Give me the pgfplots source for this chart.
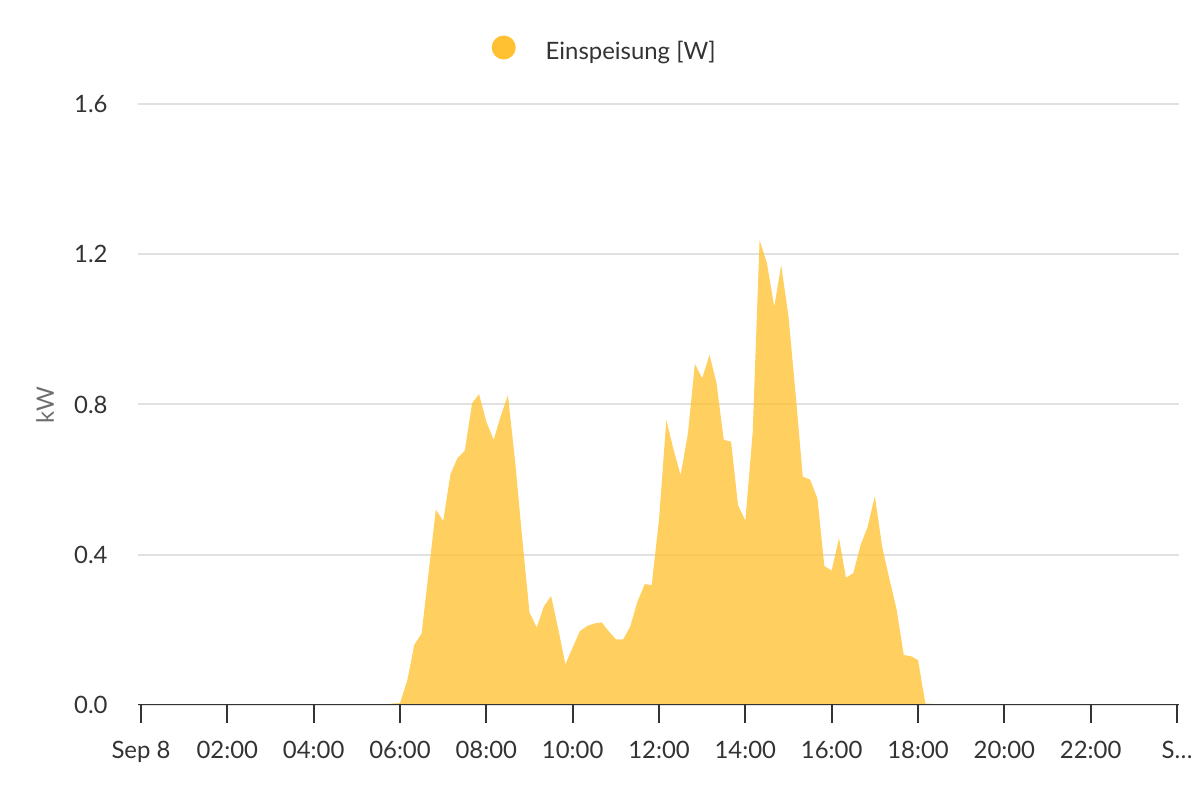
\documentclass[border=0pt]{standalone}
\usepackage{fontspec}
\setmainfont{Lato}
\usepackage{pgfplots}
\pgfplotsset{compat=1.18}
\definecolor{legc}{RGB}{255,193,50}
\definecolor{gridc}{RGB}{225,225,225}
\definecolor{axisc}{RGB}{51,51,51}
\definecolor{labc}{RGB}{110,110,110}
\begin{document}
\begin{tikzpicture}
\path[use as bounding box] (-69bp,-47.5bp) rectangle (531bp,352.5bp);
\begin{axis}[
  at={(0,0)}, anchor=south west,
  scale only axis, width=520.5bp, height=300.5bp,
  xmin=-0.0695, xmax=24.046, ymin=0, ymax=1.6,
  axis line style={draw=none},
  xtick={0,2,4,6,8,10,12,14,16,18,20,22,24},
  xticklabels={Sep 8,02:00,04:00,06:00,08:00,10:00,12:00,14:00,16:00,18:00,20:00,22:00,S…},
  xtick pos=bottom, ytick pos=left,
  ytick={0,0.4,0.8,1.2,1.6},
  yticklabel style={/pgf/number format/fixed, /pgf/number format/fixed zerofill, /pgf/number format/precision=1, xshift=-2.7bp},
  /pgf/number format/assume math mode=true,
  tick align=outside, major tick length=9bp,
  xtick style={draw=axisc, line width=1bp},
  ytick style={draw=none},
  ymajorgrids, grid style={gridc, line width=1bp},
  tick label style={font=\fontsize{12}{14}\selectfont, text=axisc},
  xticklabel style={yshift=-5.5bp},
  ylabel={kW},
  ylabel style={at={(axis description cs:-0.0893,0.499)}, anchor=center, font=\fontsize{12}{14}\selectfont, text=labc},
  legend style={at={(axis description cs:0.3398,1.0883)}, anchor=west, draw=none, fill=none, inner sep=0pt, outer sep=0pt,
    font=\fontsize{12}{14}\selectfont, text=axisc, /tikz/every odd column/.append style={column sep=13bp}},
  legend image code/.code={\fill[legc, fill opacity=1] (6bp,2.1bp) circle (6bp);},
]
\addplot[fill=legc, fill opacity=0.78, draw=none] table[row sep=\\] {
x y\\
0 0\\ 5.67 0\\ 5.83 0.004\\ 6.0 0.005\\ 6.17 0.066\\ 6.33 0.16\\ 6.5 0.19\\ 6.67 0.36\\ 6.83 0.52\\
7.0 0.49\\ 7.17 0.615\\ 7.33 0.657\\ 7.5 0.677\\ 7.67 0.803\\ 7.83 0.828\\ 8.0 0.754\\ 8.17 0.706\\
8.33 0.768\\ 8.5 0.825\\ 8.67 0.645\\ 8.83 0.445\\ 9.0 0.246\\ 9.17 0.206\\ 9.33 0.262\\ 9.5 0.29\\
9.67 0.20\\ 9.83 0.108\\ 10.0 0.153\\ 10.17 0.197\\ 10.33 0.21\\ 10.5 0.217\\ 10.67 0.22\\ 10.83 0.197\\
11.0 0.175\\ 11.17 0.175\\ 11.33 0.208\\ 11.5 0.275\\ 11.67 0.322\\ 11.83 0.319\\ 12.0 0.493\\ 12.17 0.759\\
12.33 0.683\\ 12.5 0.612\\ 12.67 0.723\\ 12.83 0.908\\ 13.0 0.870\\ 13.17 0.932\\ 13.33 0.858\\ 13.5 0.706\\
13.67 0.701\\ 13.83 0.532\\ 14.0 0.491\\ 14.17 0.725\\ 14.33 1.238\\ 14.5 1.176\\ 14.67 1.06\\ 14.83 1.171\\
15.0 1.034\\ 15.17 0.821\\ 15.33 0.608\\ 15.5 0.600\\ 15.67 0.55\\ 15.83 0.37\\ 16.0 0.358\\ 16.17 0.444\\
16.33 0.339\\ 16.5 0.351\\ 16.67 0.426\\ 16.83 0.473\\ 17.0 0.556\\ 17.17 0.421\\ 17.33 0.339\\ 17.5 0.257\\
17.67 0.133\\ 17.83 0.130\\ 18.0 0.12\\ 18.17 0.004\\ 18.33 0.003\\ 18.5 0\\ 24 0\\
} \closedcycle;
\addlegendentry{Einspeisung [W]}
\addplot[draw=axisc, line width=1.3bp, forget plot] coordinates {(-0.0695,0) (24.046,0)};
\end{axis}
\end{tikzpicture}
\end{document}
